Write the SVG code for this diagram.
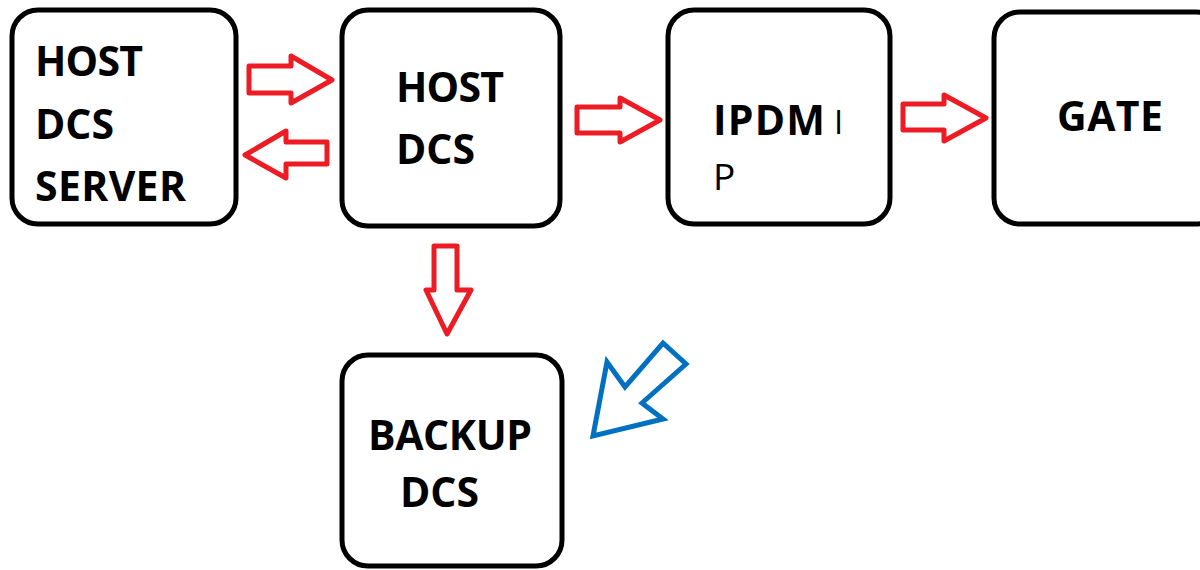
<svg xmlns="http://www.w3.org/2000/svg" width="1200" height="570" viewBox="0 0 1200 570">
<style>
.box{fill:#fff;stroke:#000;stroke-width:5}
.t{font-family:"Open Sans","Noto Sans",sans-serif;font-weight:bold;font-size:41px;fill:#000}
.n{font-family:"Open Sans","Noto Sans",sans-serif;font-weight:normal;fill:#000}
.ra{fill:#fff;stroke:#ED1C24;stroke-width:5;stroke-linejoin:round}
.ba{fill:#fff;stroke:#0070C0;stroke-width:5;stroke-linejoin:miter}
</style>
<rect width="1200" height="570" fill="#fff"/>
<g id="host-dcs-server">
<rect class="box" x="12" y="10" width="224" height="214" rx="26"/>
<text class="t" x="35" y="76" textLength="108">HOST</text>
<text class="t" x="35" y="139">DCS</text>
<text class="t" x="35" y="201" textLength="151">SERVER</text>
</g>
<g id="host-dcs">
<rect class="box" x="342" y="10" width="218" height="216" rx="26"/>
<text class="t" x="396" y="102" textLength="108">HOST</text>
<text class="t" x="396" y="164">DCS</text>
</g>
<g id="ipdmi">
<rect class="box" x="668" y="10" width="222" height="214" rx="26"/>
<text class="t" x="713" y="135" textLength="112">IPDM</text>
<text class="n" x="834" y="134" font-size="33">I</text>
<text class="n" x="713" y="190" font-size="37">P</text>
</g>
<g id="gate">
<rect class="box" x="994" y="12" width="228" height="212" rx="26"/>
<text class="t" x="1057" y="131" textLength="106">GATE</text>
</g>
<g id="backup-dcs">
<rect class="box" x="342" y="355" width="220" height="211" rx="26"/>
<text class="t" x="368" y="450" textLength="164">BACKUP</text>
<text class="t" x="400" y="507">DCS</text>
</g>
<g id="connectors">
<polygon class="ra" points="249,66 291,66 291,56 332,80 291,103 291,93 249,93"/>
<polygon class="ra" points="327,142 286,142 286,131 245,155 286,178 286,164 327,164"/>
<polygon class="ra" points="577,107 620,107 620,98 660,120 620,142 620,133 577,133"/>
<polygon class="ra" points="903,104 944,104 944,95 986,118 944,141 944,130 903,130"/>
<polygon class="ra" points="434,246 457,246 457,290 471,290 447,334 426,290 434,290"/>
<polygon class="ba" points="593,436 607,362 625,387 663,343 686,364 642,403 663,419"/>
</g>
</svg>
